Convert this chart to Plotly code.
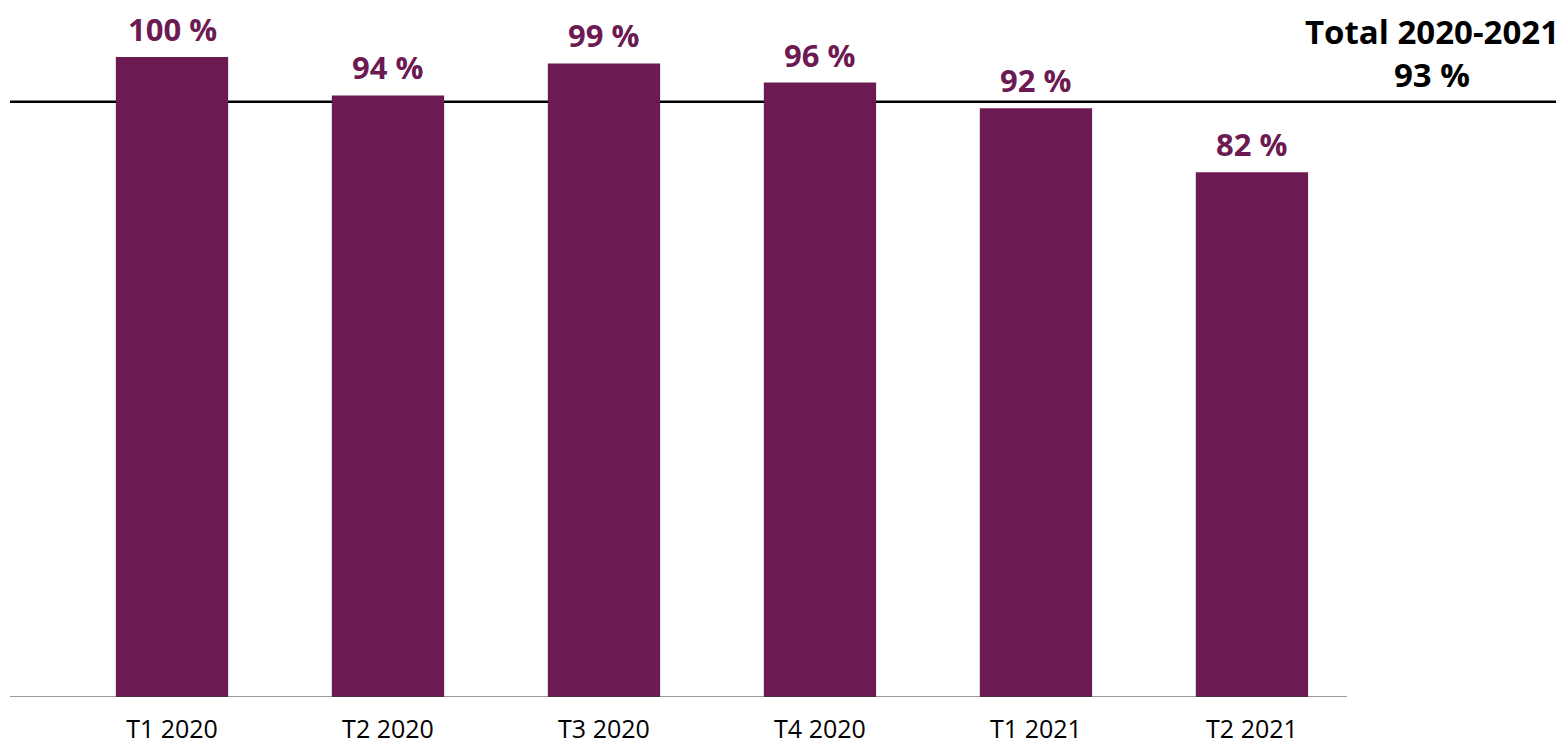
import plotly.graph_objects as go

categories = ["T1 2020", "T2 2020", "T3 2020", "T4 2020", "T1 2021", "T2 2021"]
values = [100, 94, 99, 96, 92, 82]
total_label = "Total 2020-2021"
total_value = 93

bar_color = "#6C1A52"

# page has an 8px body margin; compensate so the picture lines up
W_plot = 1337
fig = go.Figure()
fig.add_trace(go.Bar(
    x=categories, y=values, marker=dict(color=bar_color, line=dict(width=0)),
    width=0.52, hoverinfo="skip",
))

for c, v in zip(categories, values):
    fig.add_annotation(
        x=c, y=v, text=f"<b>{v} %</b>", showarrow=False,
        yanchor="bottom", yshift=6, borderpad=0,
        font=dict(family="Open Sans, sans-serif", size=31, color=bar_color),
    )

fig.add_shape(type="line", xref="paper", yref="y", x0=0, x1=(1556 - 2) / W_plot,
              y0=total_value, y1=total_value, line=dict(color="black", width=2.5), layer="below")
fig.add_shape(type="line", xref="paper", yref="y", x0=0, x1=1, y0=0, y1=0,
              line=dict(color="#3a3a3a", width=1.2), layer="above")

fig.add_annotation(
    xref="paper", yref="y", x=(1424 - 2) / W_plot, y=total_value,
    text=f"<b>{total_label}</b><br><b>{total_value} %</b>", showarrow=False,
    xanchor="center", yanchor="bottom", yshift=3, align="center",
    font=dict(family="Open Sans, sans-serif", size=33, color="black"),
)

fig.update_layout(
    width=1564, height=743,
    margin=dict(l=2, r=225, t=0, b=54),
    plot_bgcolor="white", paper_bgcolor="white",
    showlegend=False,
    bargap=0.48,
)
fig.update_xaxes(
    range=[-0.75, 5.44], showgrid=False, zeroline=False, showline=False,
    ticks="outside", ticklen=10, tickcolor="rgba(0,0,0,0)",
    tickfont=dict(family="Open Sans, sans-serif", size=25, color="black"),
)
fig.update_yaxes(
    range=[0, 689 / 6.4], visible=False, showgrid=False, zeroline=False,
)

fig.write_html("out.html")
